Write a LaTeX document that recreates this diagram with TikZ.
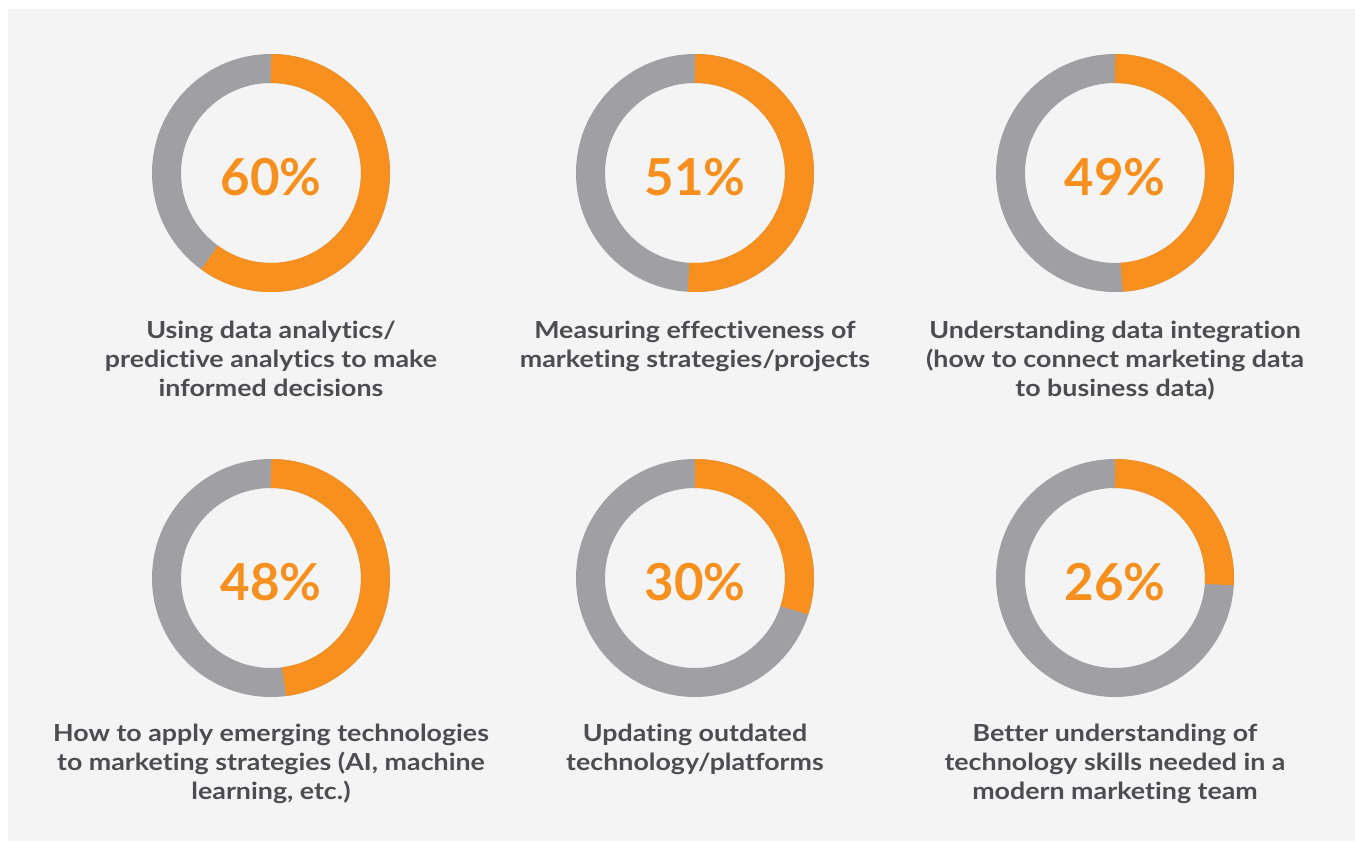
\documentclass[tikz,border=0pt]{standalone}
\usepackage{fontspec}
\setmainfont{Lato}
\newfontfamily\capfont{Lato}[FakeStretch=1.14, Ligatures=NoCommon]
\usetikzlibrary{calc}
\definecolor{ringorange}{HTML}{F7901E}
\definecolor{ringgray}{HTML}{A0A0A4}
\definecolor{panelgray}{HTML}{F4F4F4}
\definecolor{labelgray}{HTML}{4D4D4F}

\begin{document}
\begin{tikzpicture}[x=1pt, y=1pt,
    ring/.style={line width=29pt, draw=ringgray},
    share/.style={line width=29pt, draw=ringorange},
    pct/.style={font=\fontsize{51}{51}\selectfont\bfseries, text=ringorange, inner sep=0, anchor=base},
    caption/.style={font=\capfont\fontsize{23.5}{29}\selectfont\bfseries, text=labelgray, align=center,
        anchor=north, inner sep=0, execute at begin node=\strut}]
    \useasboundingbox (0,0) rectangle (1355,-841);
    \fill[white] (0,0) rectangle (1355,-841);
    \fill[panelgray] (8,-9) rectangle (1355,-841);
    % rings with their shares
    \foreach \id/\cx/\cy/\p in {a/271/-173/60, b/695/-173/51, c/1115/-173/49,
                                d/271/-578/48, e/695/-578/30, f/1115/-578/26}{
        \coordinate (\id) at (\cx,\cy);
        \draw[ring] (\id) circle[radius=104.5pt];
        \draw[share] ($(\id)+(0,104.5)$) arc[start angle=90, delta angle=-3.6*\p, radius=104.5pt];
        \node[pct] (\id-pct) at ($(\id)+(0,-22)$) {\p\%};
    }
    % captions
    \node[caption] (a-text) at ($(a)+(0,-148)$) {Using data analytics/\\predictive analytics to make\\informed decisions};
    \node[caption] (b-text) at ($(b)+(0,-148)$) {Measuring effectiveness of\\marketing strategies/projects};
    \node[caption] (c-text) at ($(c)+(0,-148)$) {Understanding data integration\\(how to connect marketing data\\to business data)};
    \node[caption] (d-text) at ($(d)+(0,-146)$) {How to apply emerging technologies\\to marketing strategies (AI, machine\\learning, etc.)};
    \node[caption] (e-text) at ($(e)+(0,-146)$) {Updating outdated\\technology/platforms};
    \node[caption] (f-text) at ($(f)+(0,-146)$) {Better understanding of\\technology skills needed in a\\modern marketing team};
\end{tikzpicture}
\end{document}
